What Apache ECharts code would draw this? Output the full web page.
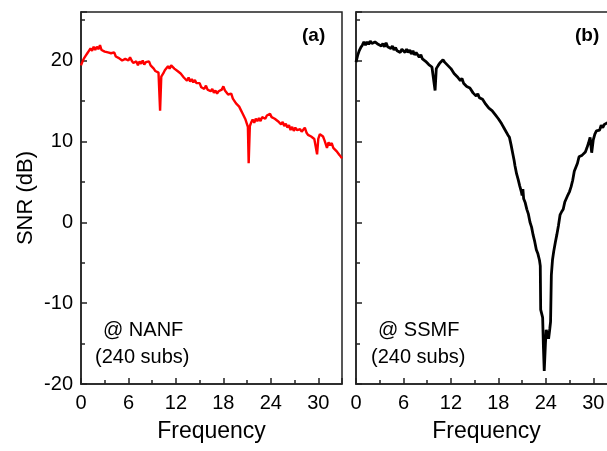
<!DOCTYPE html>
<html>
<head>
<meta charset="utf-8">
<script src="https://cdn.jsdelivr.net/npm/echarts@6/dist/echarts.min.js"></script>
<style>html,body{margin:0;padding:0;background:#fff}#c{width:607px;height:451px}</style>
</head>
<body>
<div id="c"></div>
<script>
// Frequency (x) and SNR in dB (y)
const nanfFreq = [0.0,0.2,0.4,0.6,0.8,1.0,1.2,1.4,1.6,1.8,2.0,2.2,2.4,2.6,2.8,3.0,3.2,3.4,3.6,3.8,4.0,4.2,4.4,4.6,4.8,5.0,5.2,5.4,5.6,5.8,6.0,6.2,6.4,6.6,6.8,7.0,7.2,7.4,7.6,7.8,8.0,8.2,8.4,8.6,8.8,9.0,9.2,9.4,9.6,9.8,10.0,10.15,10.4,10.6,10.8,11.0,11.2,11.4,11.6,11.8,12.0,12.2,12.4,12.6,12.8,13.0,13.2,13.4,13.6,13.8,14.0,14.2,14.4,14.6,14.8,15.0,15.2,15.4,15.6,15.8,16.0,16.2,16.4,16.6,16.8,17.0,17.2,17.4,17.6,17.8,18.0,18.2,18.4,18.6,18.8,19.0,19.2,19.4,19.6,19.8,20.0,20.2,20.4,20.6,20.8,21.0,21.1,21.2,21.35,21.5,21.7,21.9,22.1,22.3,22.5,22.7,22.9,23.1,23.3,23.5,23.7,23.9,24.1,24.3,24.5,24.7,24.9,25.1,25.3,25.5,25.7,25.9,26.1,26.3,26.5,26.7,26.9,27.1,27.3,27.5,27.7,27.9,28.1,28.3,28.5,28.7,28.9,29.1,29.3,29.5,29.7,29.85,30.0,30.2,30.4,30.6,30.8,31.0,31.1,31.3,31.5,31.7,31.9,32.1,32.3,32.5,32.7,32.9,33.0];
const nanfSnr = [19.4,19.9,20.3,20.6,20.9,21.2,21.5,21.2,21.7,21.3,21.7,21.4,21.9,21.3,21.5,21.1,21.3,21.0,21.1,20.9,20.8,21.0,20.5,20.7,20.3,20.4,20.0,19.8,20.2,20.1,20.0,20.4,20.0,19.7,19.8,19.9,19.4,19.9,19.6,20.0,19.5,19.8,19.6,19.9,19.4,19.2,19.0,18.7,18.8,18.5,13.8,18.0,18.4,18.8,19.0,19.3,19.0,19.4,19.3,19.0,19.0,18.7,18.8,18.4,18.3,17.9,17.8,17.5,17.9,17.4,17.7,17.3,17.6,17.2,17.0,17.2,16.7,16.9,16.5,16.9,16.4,16.6,16.2,16.5,16.0,16.3,15.9,16.2,16.4,16.4,16.8,16.3,16.1,15.8,15.6,15.9,15.3,15.4,14.7,14.6,14.3,13.9,13.5,13.3,12.7,12.5,11.8,7.3,11.9,12.3,12.7,12.3,12.8,12.5,12.9,12.5,13.0,12.9,12.8,13.2,13.1,13.4,13.0,13.2,12.8,12.9,12.5,12.6,12.1,12.4,11.9,12.2,11.7,12.0,11.4,11.8,11.3,11.7,11.4,11.2,11.5,11.2,11.0,11.7,11.1,10.8,10.6,10.6,10.5,10.3,10.2,8.4,10.3,10.9,10.7,10.6,10.1,9.9,9.2,9.9,9.5,9.8,9.2,9.2,8.8,8.7,8.3,8.2,7.9];

const ssmfFreq = [0.0,0.2,0.4,0.6,0.8,1.0,1.2,1.4,1.6,1.8,2.0,2.2,2.4,2.6,2.8,3.0,3.2,3.4,3.6,3.8,4.0,4.2,4.4,4.6,4.8,5.0,5.2,5.4,5.6,5.8,6.0,6.2,6.4,6.6,6.8,7.0,7.2,7.4,7.6,7.8,8.0,8.2,8.4,8.6,8.8,9.0,9.2,9.4,9.6,9.8,10.0,10.15,10.4,10.6,10.8,11.0,11.2,11.4,11.6,11.8,12.0,12.2,12.4,12.6,12.8,13.0,13.2,13.4,13.6,13.8,14.0,14.2,14.4,14.6,14.8,15.0,15.2,15.4,15.6,15.8,16.0,16.2,16.4,16.6,16.8,17.0,17.2,17.4,17.6,17.8,18.0,18.2,18.4,18.6,18.8,19.0,19.2,19.4,19.6,19.8,20.0,20.1,20.3,20.5,20.7,20.9,21.0,21.1,21.2,21.4,21.6,21.8,22.0,22.2,22.4,22.6,22.8,23.0,23.2,23.3,23.35,23.5,23.6,23.7,23.8,23.95,24.05,24.2,24.35,24.5,24.6,24.7,24.85,25.0,25.2,25.4,25.6,25.8,26.0,26.2,26.4,26.6,26.8,27.0,27.2,27.4,27.6,27.8,28.0,28.2,28.4,28.6,28.8,29.0,29.2,29.4,29.6,29.8,30.0,30.2,30.4,30.6,30.8,31.0,31.2,31.4,31.6,31.8,32.0,32.2,32.4,32.6,32.8,33.0];
const ssmfSnr = [19.8,20.6,21.2,21.6,21.9,22.3,21.9,22.3,22.0,22.4,22.1,22.2,22.3,22.1,22.0,22.2,21.8,22.1,21.7,22.2,21.7,21.9,21.5,21.8,21.3,21.6,21.2,21.3,21.0,21.4,21.3,21.0,21.4,21.0,21.3,20.8,21.2,20.7,21.0,20.7,20.4,20.7,20.2,20.3,19.9,20.0,19.5,19.6,19.2,19.2,16.3,19.0,19.4,19.7,19.9,20.1,19.8,19.9,19.4,19.5,19.0,19.0,18.4,18.5,18.0,18.0,17.5,17.8,17.2,17.1,16.8,16.7,16.6,16.4,16.0,16.1,15.6,15.9,15.4,15.3,15.2,14.9,14.6,14.7,14.1,14.3,13.8,13.8,13.3,13.3,12.8,12.7,12.2,12.1,11.5,11.4,10.8,10.5,9.6,8.6,7.6,7.0,6.0,5.3,4.5,3.8,3.3,4.1,2.9,2.4,1.6,1.0,0.0,-0.6,-1.6,-2.4,-3.4,-3.9,-4.7,-5.4,-10.8,-11.4,-11.8,-15.5,-18.4,-15.0,-13.3,-13.8,-14.4,-13.2,-12.3,-6.5,-4.6,-3.6,-2.5,-1.5,-0.4,0.9,1.3,1.6,2.5,2.7,3.4,3.8,4.4,5.2,6.3,6.5,7.3,8.1,8.0,8.3,8.4,8.7,9.2,9.8,10.5,8.6,10.2,10.9,11.3,11.5,11.4,12.0,11.7,12.1,11.9,12.3,12.2,12.5,12.3,12.6,12.4,12.6];

const xTicks = [0, 6, 12, 18, 24, 30];
const yTicks = [-20, -10, 0, 10, 20];
const panelLabels = ['(a)', '(b)'];
const fiberLabels = ['@ NANF', '@ SSMF'];
const subsLabel = '(240 subs)';

const FONT = "'Liberation Sans', Arial, sans-serif";
const AXC = '#222';

function zip(xs, ys) { return xs.map((x, i) => [x, ys[i]]); }

function xAxisCfg(gi) {
  return {
    gridIndex: gi, type: 'value', min: 0, max: 33, interval: 6,
    name: 'Frequency', nameLocation: 'middle', nameGap: 36,
    nameTextStyle: { fontFamily: FONT, fontSize: 23, color: '#000' },
    axisLine: { show: true, onZero: false, lineStyle: { color: AXC, width: 1.5 } },
    axisTick: { show: true, inside: true, length: 6, lineStyle: { color: AXC, width: 1.5 } },
    minorTick: { show: true, splitNumber: 2, length: 4, lineStyle: { color: AXC, width: 1.5 } },
    axisLabel: { fontFamily: FONT, fontSize: 20, color: '#000', margin: 9,
      formatter: v => xTicks.includes(v) ? String(v) : '' },
    splitLine: { show: false }
  };
}
function yAxisCfg(gi, withLabels) {
  return {
    gridIndex: gi, type: 'value', min: -20, max: 26, interval: 10,
    name: withLabels ? 'SNR (dB)' : '', nameLocation: 'middle', nameGap: 44,
    nameTextStyle: { fontFamily: FONT, fontSize: 22, color: '#000' },
    axisLine: { show: true, onZero: false, lineStyle: { color: AXC, width: 1.5 } },
    axisTick: { show: true, inside: true, length: 6, lineStyle: { color: AXC, width: 1.5 } },
    minorTick: { show: true, splitNumber: 2, length: 4, lineStyle: { color: AXC, width: 1.5 } },
    axisLabel: { show: withLabels, fontFamily: FONT, fontSize: 20, color: '#000', margin: 8,
      formatter: v => yTicks.includes(v) ? String(v) : '' },
    splitLine: { show: false }
  };
}

const chart = echarts.init(document.getElementById('c'), null, { renderer: 'canvas' });
chart.setOption({
  animation: false,
  backgroundColor: '#fff',
  grid: [
    { left: 81, top: 12, width: 261, height: 372, show: true, borderColor: AXC, borderWidth: 1.5, backgroundColor: 'transparent', outerBoundsMode: 'none', containLabel: false },
    { left: 356, top: 12, width: 261, height: 372, show: true, borderColor: AXC, borderWidth: 1.5, backgroundColor: 'transparent', outerBoundsMode: 'none', containLabel: false }
  ],
  xAxis: [xAxisCfg(0), xAxisCfg(1)],
  yAxis: [yAxisCfg(0, true), yAxisCfg(1, false)],
  series: [
    { type: 'line', xAxisIndex: 0, yAxisIndex: 0, data: zip(nanfFreq, nanfSnr), showSymbol: false,
      lineStyle: { color: '#ff0000', width: 2.4 }, clip: true },
    { type: 'line', xAxisIndex: 1, yAxisIndex: 1, data: zip(ssmfFreq, ssmfSnr), showSymbol: false,
      lineStyle: { color: '#000000', width: 2.8 }, clip: true }
  ],
  graphic: [
    { type: 'text', left: 302, top: 26, style: { text: panelLabels[0], font: 'bold 19px ' + FONT, fill: '#000' } },
    { type: 'text', left: 575, top: 26, style: { text: panelLabels[1], font: 'bold 19px ' + FONT, fill: '#000' } },
    { type: 'text', left: 103, top: 320, style: { text: fiberLabels[0], font: '20px ' + FONT, fill: '#000' } },
    { type: 'text', left: 95, top: 347, style: { text: subsLabel, font: '20px ' + FONT, fill: '#000' } },
    { type: 'text', left: 378, top: 320, style: { text: fiberLabels[1], font: '20px ' + FONT, fill: '#000' } },
    { type: 'text', left: 371, top: 347, style: { text: subsLabel, font: '20px ' + FONT, fill: '#000' } }
  ]
});
</script>
</body>
</html>
